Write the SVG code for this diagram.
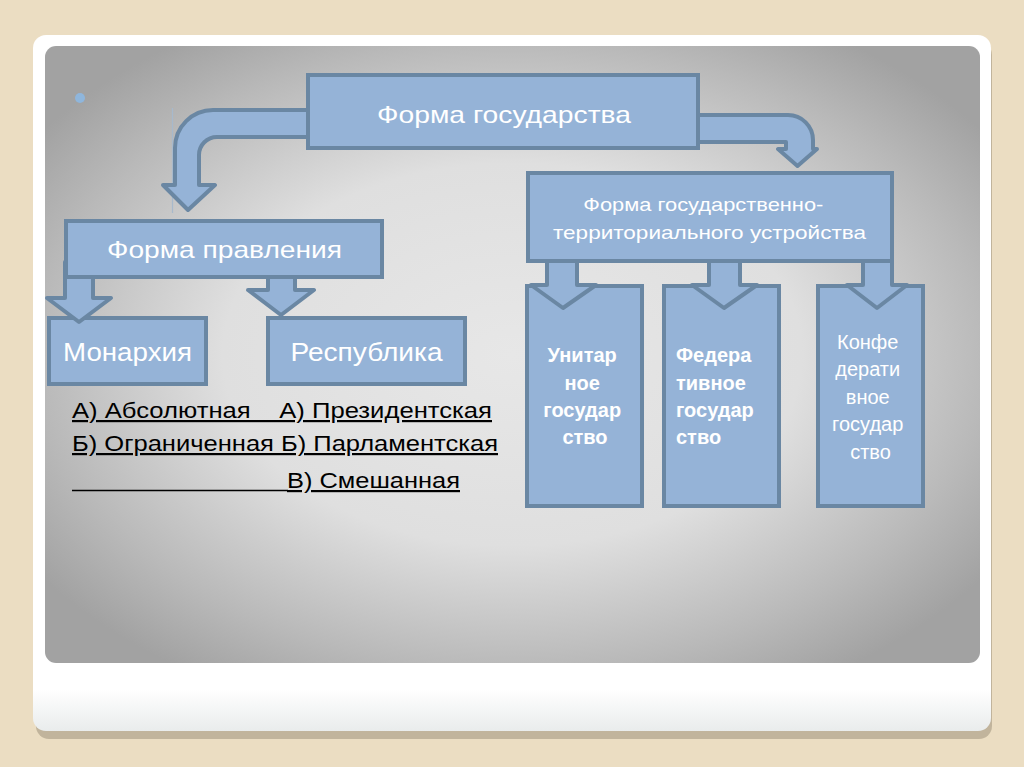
<svg xmlns="http://www.w3.org/2000/svg" width="1024" height="767" viewBox="0 0 1024 767">
<defs>
<radialGradient id="panelGrad" cx="50%" cy="50%" r="62%">
<stop offset="0" stop-color="#e7e7e7"/>
<stop offset="0.5" stop-color="#dfdfdf"/>
<stop offset="0.82" stop-color="#b9b9b9"/>
<stop offset="1" stop-color="#a2a2a2"/>
</radialGradient>
<linearGradient id="cardGrad" x1="0" y1="0" x2="0" y2="1">
<stop offset="0" stop-color="#ffffff"/>
<stop offset="0.94" stop-color="#ffffff"/>
<stop offset="1" stop-color="#e9ecec"/>
</linearGradient>
</defs>
<style>
.box{fill:#95b3d7;stroke:#6a87a3;stroke-width:4}
.arr{fill:#95b3d7;stroke:#6a87a3;stroke-width:4;stroke-linejoin:round}
.t{font-family:"Liberation Sans",Arial,sans-serif;fill:#ffffff}
.b{font-weight:bold}
.u{font-family:"Liberation Sans",Arial,sans-serif;fill:#000000;font-size:22px;text-decoration:underline;white-space:pre}
</style>
<rect x="0" y="0" width="1024" height="767" fill="#ebddc2"/>
<rect x="36" y="42" width="956" height="697" rx="13" fill="#b7aa92" opacity="0.8"/>
<rect x="33" y="35" width="958" height="696" rx="13" fill="url(#cardGrad)"/>
<rect x="45" y="46" width="935" height="617" rx="11" fill="url(#panelGrad)"/>
<circle cx="80" cy="98" r="5" fill="#8fb6dc"/>
<line x1="172.5" y1="108" x2="172.5" y2="213" stroke="#a7b9cc" stroke-width="1.2"/>

<g id="n-monarchy">
<rect class="box" x="49" y="318" width="157" height="66"/>
<text class="t" x="127.5" y="361" font-size="25" text-anchor="middle" textLength="129" lengthAdjust="spacingAndGlyphs">Монархия</text>
</g>
<g id="n-republic">
<rect class="box" x="268" y="318" width="197" height="66"/>
<text class="t" x="366.5" y="361" font-size="25" text-anchor="middle" textLength="152" lengthAdjust="spacingAndGlyphs">Республика</text>
</g>
<g id="n-unitary">
<rect class="box" x="527" y="286" width="115" height="220"/>
<text class="t b" font-size="20" text-anchor="middle">
<tspan x="585" y="362">Унитар</tspan>
<tspan x="585" y="390">ное</tspan>
<tspan x="585" y="417">государ</tspan>
<tspan x="585" y="444">ство</tspan>
</text>
</g>
<g id="n-federal">
<rect class="box" x="664" y="286" width="115" height="220"/>
<text class="t b" font-size="20">
<tspan x="676" y="362">Федера</tspan>
<tspan x="676" y="390">тивное</tspan>
<tspan x="676" y="417">государ</tspan>
<tspan x="676" y="444">ство</tspan>
</text>
</g>
<g id="n-confed">
<rect class="box" x="818" y="286" width="105" height="220"/>
<text class="t" font-size="20" text-anchor="middle">
<tspan x="870.5" y="349">Конфе</tspan>
<tspan x="870.5" y="376">дерати</tspan>
<tspan x="870.5" y="404">вное</tspan>
<tspan x="870.5" y="431">государ</tspan>
<tspan x="870.5" y="459">ство</tspan>
</text>
</g>

<g id="connectors">
<path class="arr" d="M320,110 H213 A38,38 0 0 0 175,148 V185 H163 L188,210 L215,185 H199 V155 A18,18 0 0 1 217,137 H320 Z"/>
<path class="arr" d="M690,115 H788 A25,25 0 0 1 813,140 V149 H817 L797.5,166 L778,149 H786 V142 H690 Z"/>
<path class="arr" d="M65,262 V298 H47 L79,322 L111,298 H93 V262 Z"/>
<path class="arr" d="M268,262 V290 H248 L281,315 L314,290 H295 V262 Z"/>
<path class="arr" d="M547,250 V285 H531 L563,308 L596,285 H577 V250 Z"/>
<path class="arr" d="M709,250 V285 H692 L724,308 L757,285 H740 V250 Z"/>
<path class="arr" d="M863,250 V285 H847 L877,308 L907,285 H892 V250 Z"/>
</g>

<g id="n-forma-gos">
<rect class="box" x="308" y="75" width="390" height="73"/>
<text class="t" x="504" y="123" font-size="24" text-anchor="middle" textLength="254" lengthAdjust="spacingAndGlyphs">Форма государства</text>
</g>
<g id="n-forma-pravl">
<rect class="box" x="66" y="221" width="316" height="56"/>
<text class="t" x="224.5" y="258" font-size="24" text-anchor="middle" textLength="235" lengthAdjust="spacingAndGlyphs">Форма правления</text>
</g>
<g id="n-forma-terr">
<rect class="box" x="528" y="173" width="364" height="88"/>
<text class="t" font-size="19" text-anchor="middle">
<tspan x="706" y="211" textLength="240" lengthAdjust="spacingAndGlyphs">Форма государственно-</tspan>
<tspan x="709.5" y="239" textLength="313" lengthAdjust="spacingAndGlyphs">территориального устройства</tspan>
</text>
</g>

<g id="lists">
<text class="u" x="72" y="418" textLength="420" lengthAdjust="spacingAndGlyphs">А) Абсолютная    А) Президентская</text>
<text class="u" x="72" y="451" textLength="426" lengthAdjust="spacingAndGlyphs">Б) Ограниченная Б) Парламентская</text>
<line x1="72" y1="490.5" x2="288" y2="490.5" stroke="#000000" stroke-width="1.5"/>
<text class="u" x="287" y="488" textLength="173" lengthAdjust="spacingAndGlyphs">В) Смешанная</text>
</g>
</svg>
